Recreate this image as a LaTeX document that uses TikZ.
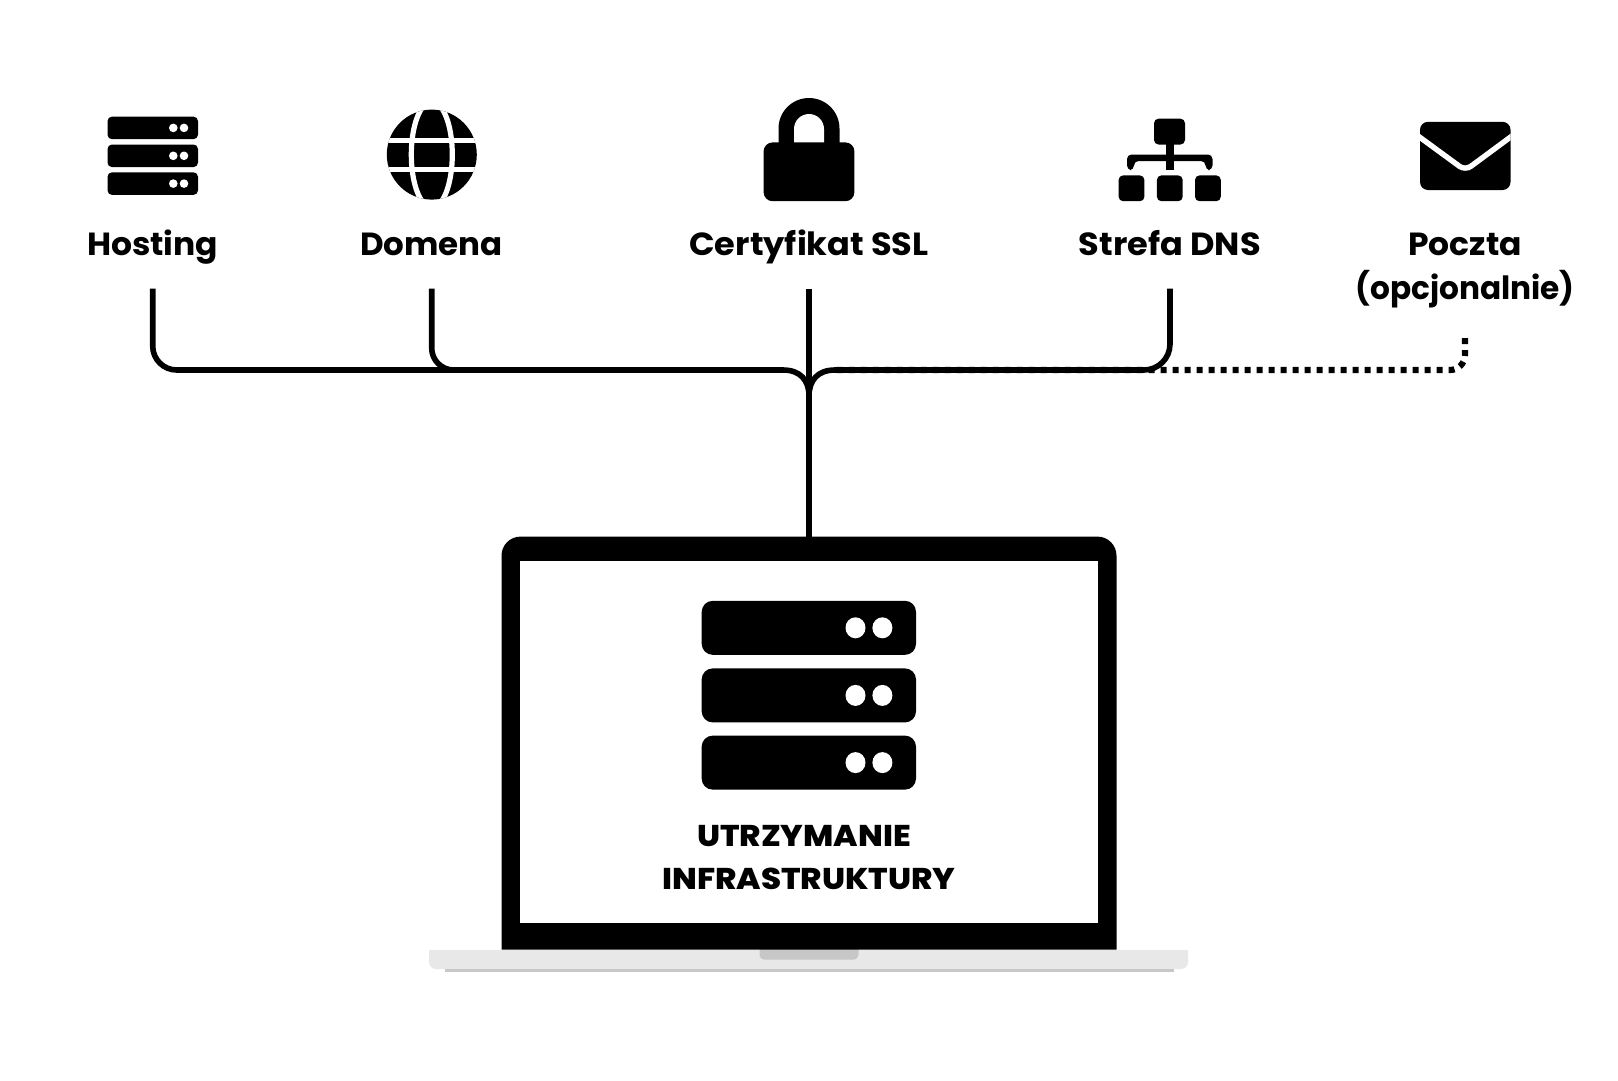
\documentclass[tikz,border=0pt]{standalone}
\usepackage{fontspec}
\setmainfont{Poppins}[BoldFont={Poppins Bold}]
\newfontfamily\heavyfont{Poppins ExtraBold}
\usetikzlibrary{calc}
\tikzset{
  conn/.style={line width=5.6pt,draw=black,line cap=butt},
  dots/.style={line width=6.2pt,draw=black,dash pattern=on 6pt off 6pt,line cap=butt},
  lbl/.style={anchor=base,inner sep=0pt,font=\fontsize{32}{32}\selectfont\bfseries,text=black},
  ttl/.style={anchor=base,inner sep=0pt,font=\fontsize{30}{30}\heavyfont,text=black},
  ink/.style={fill=black,draw=none},
  hole/.style={fill=white,draw=none},
}
\begin{document}
\begin{tikzpicture}[x=1pt,y=-1pt]
\useasboundingbox (0,0) rectangle (1618,1080);
\fill[white] (0,0) rectangle (1618,1080);

% small server icon
\foreach \y in {116.6,144.5,172.3}{
  \fill[ink,rounded corners=4.5pt] (107.5,\y) rectangle (198,\y+22.6);
  \fill[hole] (173.3,\y+11.3) circle (4.3);
  \fill[hole] (184,\y+11.3) circle (4.3);
}

% globe
\begin{scope}
  \clip (431.8,154.6) circle (45);
  \fill[ink] (380,100) rectangle (485,205);
  \draw[white,line width=5.2pt] (431.8,154.6) ellipse (20.5 and 53);
  \fill[hole] (380,137.5) rectangle (485,142.5);
  \fill[hole] (380,166.7) rectangle (485,171.7);
\end{scope}

% padlock
\fill[ink,rounded corners=9pt] (763.6,142.4) rectangle (854.4,201.2);
\fill[ink] (778.5,150) -- (778.5,128.5) arc[start angle=180,end angle=360,radius=30.5] -- (839.5,150) -- cycle;
\fill[hole] (794,142.4) -- (794,129) arc[start angle=180,end angle=360,radius=15] -- (824,142.4) -- cycle;

% site map
\fill[ink,rounded corners=4.5pt] (1154,118.7) rectangle (1185,144.5);
\fill[ink] (1166,144) rectangle (1174,170);
\fill[ink,rounded corners=4.5pt] (1127,170) -- (1127,154.5) -- (1212.5,154.5) -- (1212.5,170) -- (1205.5,170) -- (1205.5,161) -- (1134,161) -- (1134,170) -- cycle;
\foreach \x in {1118.6,1156.9,1195}{
  \fill[ink,rounded corners=4.5pt] (\x,175.4) rectangle (\x+25.8,201.2);
}

% envelope
\begin{scope}
  \clip[rounded corners=8pt] (1420,121.8) rectangle (1510.5,190);
  \fill[ink] (1415,115) rectangle (1515,195);
  \draw[white,line width=5.4pt,rounded corners=7pt] (1414,133) -- (1465.2,170.5) -- (1516,133);
\end{scope}

% labels
\node[lbl] (hosting) at (152.7,255) {\scalebox{1.03}[1]{Hosting}};
\node[lbl] (domena) at (431.5,255) {\scalebox{1.015}[1]{Domena}};
\node[lbl] (ssl) at (809,255) {\scalebox{1.05}[1]{Certyfikat SSL}};
\node[lbl] (dns) at (1169.8,255) {\scalebox{1.05}[1]{Strefa DNS}};
\node[lbl] (poczta) at (1465,255) {\scalebox{1.03}[1]{Poczta}};
\node[lbl] (opcja) at (1465,299) {\scalebox{0.974}[1]{(opcjonalnie)}};

% laptop
\fill[black!9] (429,950) -- (1188,950) -- (1188,962) arc[start angle=0,end angle=90,radius=7] -- (436,969) arc[start angle=90,end angle=180,radius=7] -- cycle;
\fill[black!22] (444.5,969) rectangle (1173.5,972);
\fill[black!22,rounded corners=5pt] (759.5,945) rectangle (858.5,959.7);
\node[draw=none,minimum width=615pt,minimum height=413pt,inner sep=0pt,outer sep=0pt,anchor=north] (laptop) at (809,536.6) {};
\fill[ink] (501.5,949.6) -- (501.5,555.6) arc[start angle=180,end angle=270,radius=19] -- (1097.5,536.6) arc[start angle=270,end angle=360,radius=19] -- (1116.5,949.6) -- cycle;
\fill[hole] (520,561.4) rectangle (1098,922.5);

% big server icon
\foreach \y in {600.8,668.4,735.6}{
  \fill[ink,rounded corners=11pt] (701.7,\y) rectangle (916,\y+54);
  \fill[hole] (855.5,\y+27) ellipse (10 and 10.5);
  \fill[hole] (882.4,\y+27) ellipse (10 and 10.5);
}
\node[ttl] (utrzymanie) at (804,846) {\scalebox{1.08}[1]{UTRZYMANIE}};
\node[ttl] (infra) at (809,889.5) {\scalebox{1.08}[1]{INFRASTRUKTURY}};

% connector ends
\coordinate (hostEnd) at (152.7,288.7);
\coordinate (domEnd) at (431.7,288.7);
\coordinate (sslEnd) at (809,288.7);
\coordinate (dnsEnd) at (1170,288.7);
\coordinate (mailEnd) at (1465,338);
\coordinate (busL) at (783,370);
\coordinate (busR) at (835,370);
\coordinate (joint) at (809,396);

% connectors
\draw[conn,rounded corners=24pt] (hostEnd) |- (455,370);
\draw[conn,rounded corners=22pt] (domEnd) |- (busL);
\draw[conn] (busL) .. controls (800,370) and (809,380) .. (joint);
\draw[conn,rounded corners=26pt] (dnsEnd) |- (busR);
\draw[conn] (busR) .. controls (818,370) and (809,380) .. (joint);
\draw[conn] (sslEnd) -- (laptop.north);
\draw[dots,rounded corners=15pt] (mailEnd) |- (busR);
\end{tikzpicture}
\end{document}
